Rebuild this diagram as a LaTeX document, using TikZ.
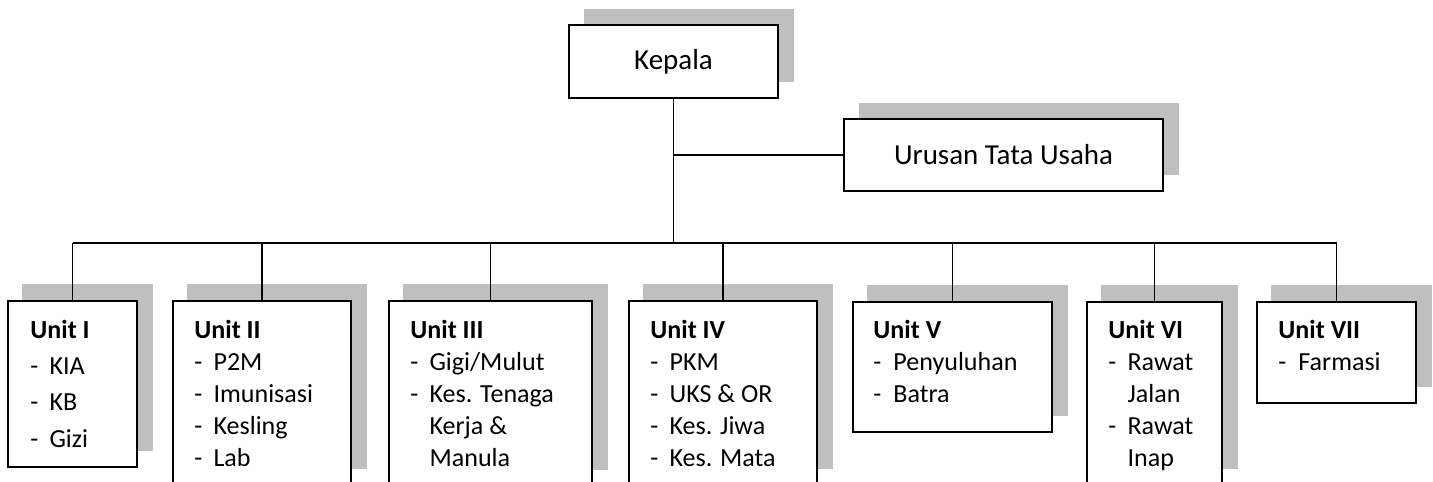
\documentclass[tikz,border=0pt]{standalone}
\usepackage{fontspec}
\setmainfont{Carlito}
\usetikzlibrary{backgrounds}
\definecolor{shgray}{HTML}{BFBFBF}
\newcommand\pxl[1]{#1*0.48pt}
\begin{document}
\begin{tikzpicture}[x=0.48pt,y=-0.48pt,
  box/.style={draw=black,line width=0.95pt,fill=white,rectangle,inner sep=0pt,outer sep=0pt,anchor=north west},
  conn/.style={draw=black,line width=0.7pt},
  shad/.style={fill=shgray},
  head/.style={font=\fontsize{13.9}{17}\selectfont},
  utext/.style={anchor=base west,inner sep=0pt,align=left,font=\fontsize{12.5}{15.4}\selectfont}]
\clip (0,0) rectangle (1433,481);
\useasboundingbox (0,0) rectangle (1433,481);

% top boxes
\node[box,head,minimum width=\pxl{209},minimum height=\pxl{73}] (kep) at (569,25) {Kepala};
\node[box,head,minimum width=\pxl{319},minimum height=\pxl{72}] (tu) at (844,119) {Urusan Tata Usaha};

% unit boxes
\node[box,minimum width=\pxl{129},minimum height=\pxl{166}] (u1) at (8,301) {};
\node[box,minimum width=\pxl{178},minimum height=\pxl{184}] (u2) at (173,301) {};
\node[box,minimum width=\pxl{203},minimum height=\pxl{185}] (u3) at (389,301) {};
\node[box,minimum width=\pxl{188},minimum height=\pxl{184}] (u4) at (629,301) {};
\node[box,minimum width=\pxl{199},minimum height=\pxl{130}] (u5) at (853,302) {};
\node[box,minimum width=\pxl{135},minimum height=\pxl{183}] (u6) at (1087,302) {};
\node[box,minimum width=\pxl{159},minimum height=\pxl{101}] (u7) at (1257,302) {};

% shadows
\begin{scope}[on background layer]
\foreach \n in {kep,tu}
  \fill[shad] ([shift={(15,-16)}]\n.south west) rectangle ([shift={(16,-16)}]\n.north east);
\foreach \n in {u1,u2,u3,u4,u5,u6,u7}
  \fill[shad] ([shift={(14,-16)}]\n.south west) rectangle ([shift={(16,-17)}]\n.north east);
\end{scope}

% unit texts
\node[utext,font=\fontsize{12.5}{17.5}\selectfont] (t1) at (30,338)
  {\begin{tabular}[t]{@{}p{9.2pt}@{}l@{}}\multicolumn{2}{@{}l@{}}{\textbf{Unit I}}\\ -&KIA\\ -&KB\\ -&Gizi\end{tabular}};
\node[utext] (t2) at (194,338)
  {\begin{tabular}[t]{@{}p{9.2pt}@{}l@{}}\multicolumn{2}{@{}l@{}}{\textbf{Unit II}}\\ -&P2M\\ -&Imunisasi\\ -&Kesling\\ -&Lab\end{tabular}};
\node[utext] (t3) at (410,338)
  {\begin{tabular}[t]{@{}p{9.2pt}@{}l@{}}\multicolumn{2}{@{}l@{}}{\textbf{Unit III}}\\ -&Gigi/Mulut\\ -&Kes. Tenaga\\ &Kerja \&\\ &Manula\end{tabular}};
\node[utext] (t4) at (650,338)
  {\begin{tabular}[t]{@{}p{9.2pt}@{}l@{}}\multicolumn{2}{@{}l@{}}{\textbf{Unit IV}}\\ -&PKM\\ -&UKS \& OR\\ -&Kes. Jiwa\\ -&Kes. Mata\end{tabular}};
\node[utext] (t5) at (873,338)
  {\begin{tabular}[t]{@{}p{9.6pt}@{}l@{}}\multicolumn{2}{@{}l@{}}{\textbf{Unit V}}\\ -&Penyuluhan\\ -&Batra\end{tabular}};
\node[utext] (t6) at (1108,338)
  {\begin{tabular}[t]{@{}p{9.2pt}@{}l@{}}\multicolumn{2}{@{}l@{}}{\textbf{Unit VI}}\\ -&Rawat\\ &Jalan\\ -&Rawat\\ &Inap\end{tabular}};
\node[utext] (t7) at (1278,338)
  {\begin{tabular}[t]{@{}p{9.6pt}@{}l@{}}\multicolumn{2}{@{}l@{}}{\textbf{Unit VII}}\\ -&Farmasi\end{tabular}};

% connectors
\coordinate (bus) at (673,243);
\draw[conn] (kep.south) -- (kep.south |- bus);
\draw[conn] (kep.south |- tu.west) -- (tu.west);
\draw[conn] (u1.north |- bus) -- (u7.north |- bus);
\foreach \n in {u1,u2,u3,u4,u5,u6,u7}
  \draw[conn] (\n.north |- bus) -- (\n.north);
\end{tikzpicture}
\end{document}
